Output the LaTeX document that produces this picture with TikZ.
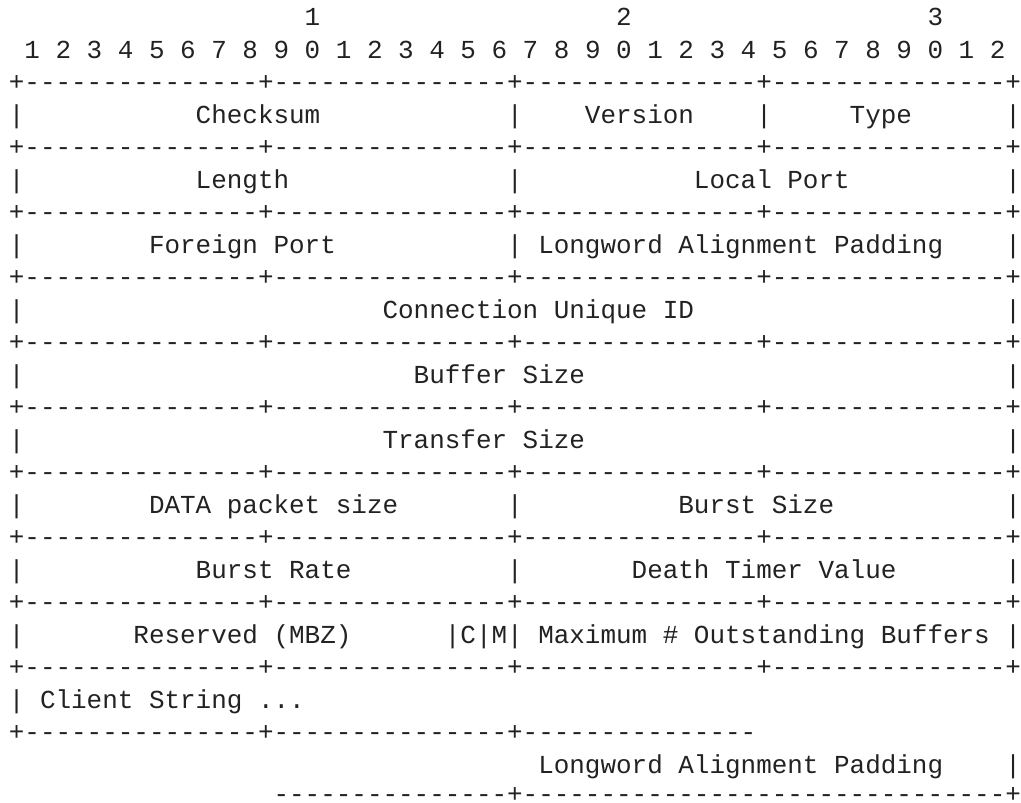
\documentclass[tikz,border=0pt]{standalone}
\usepackage{fontspec}
\newfontfamily\asciifont{Liberation Mono}
\definecolor{ink}{HTML}{222222}
\tikzset{
  ascii/.style={anchor=base west, inner sep=0pt, outer sep=0pt, text=ink,
    font=\asciifont\fontsize{25.95pt}{25.95pt}\selectfont\frenchspacing},
}
\begin{document}
\begin{tikzpicture}[x=1pt,y=1pt]
% page frame
\fill[white] (0,0) rectangle (1021,-803);
\useasboundingbox (0,0) rectangle (1021,-803);
% character grid: one unit = one column / one text row
\begin{scope}[shift={(8.9pt,-25.5pt)}, x=15.57pt, y=-32.5pt]
  % bit ruler
  \node[ascii] (tens1) at (19,0) {1};
  \node[ascii] (tens2) at (39,0) {2};
  \node[ascii] (tens3) at (59,0) {3};
  \node[ascii] (ruler) at (1,1) {1 2 3 4 5 6 7 8 9 0 1 2 3 4 5 6 7 8 9 0 1 2 3 4 5 6 7 8 9 0 1 2};
  % full-width separators
  \foreach \r in {2,4,...,20}
    \node[ascii] (border\r) at (0,\r) {+---------------+---------------+---------------+---------------+};
  % left and right walls of the full rows
  \foreach \r in {3,5,...,19}
    \node[ascii] (wallL\r) at (0,\r) {|};
  \foreach \r in {3,5,...,17}
    \node[ascii] (wallR\r) at (64,\r) {|};
  % word 1
  \node[ascii] (checksum) at (12,3) {Checksum};
  \node[ascii] (sep3a)    at (32,3) {|};
  \node[ascii] (version)  at (37,3) {Version};
  \node[ascii] (sep3b)    at (48,3) {|};
  \node[ascii] (type)     at (54,3) {Type};
  % word 2
  \node[ascii] (length)    at (12,5) {Length};
  \node[ascii] (sep5)      at (32,5) {|};
  \node[ascii] (localport) at (44,5) {Local Port};
  % word 3
  \node[ascii] (foreignport) at (9,7)  {Foreign Port};
  \node[ascii] (padding1)    at (32,7) {| Longword Alignment Padding};
  % words 4-6
  \node[ascii] (uniqueid)     at (24,9)  {Connection Unique ID};
  \node[ascii] (buffersize)   at (26,11) {Buffer Size};
  \node[ascii] (transfersize) at (24,13) {Transfer Size};
  % word 7
  \node[ascii] (datasize)  at (9,15)  {DATA packet size};
  \node[ascii] (sep15)     at (32,15) {|};
  \node[ascii] (burstsize) at (43,15) {Burst Size};
  % word 8
  \node[ascii] (burstrate)  at (12,17) {Burst Rate};
  \node[ascii] (sep17)      at (32,17) {|};
  \node[ascii] (deathtimer) at (40,17) {Death Timer Value};
  % word 9
  \node[ascii] (reserved) at (8,19)  {Reserved (MBZ)};
  \node[ascii] (flags)    at (28,19) {|C|M| Maximum \# Outstanding Buffers |};
  % variable-length tail
  \node[ascii] (client)   at (0,21)  {| Client String ...};
  \node[ascii] (border22) at (0,22)  {+---------------+---------------+---------------};
  \node[ascii] (padding2) at (34,23) {Longword Alignment Padding};
  \node[ascii] (wallR23)  at (64,23) {|};
  \node[ascii] (border24) at (17,23.9) {---------------+-------------------------------+};
\end{scope}
\end{tikzpicture}
\end{document}
